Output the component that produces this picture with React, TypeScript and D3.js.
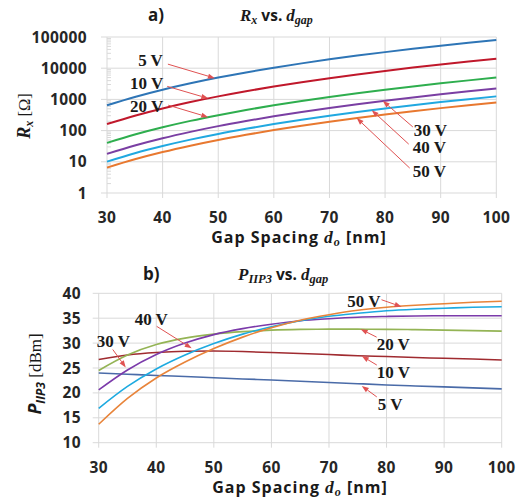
import React from "react";
import * as d3 from "d3";

// ---------- data ----------
const GAP_NM = [30, 35, 40, 45, 50, 55, 60, 65, 70, 75, 80, 85, 90, 95, 100];
const X_TICKS = [30, 40, 50, 60, 70, 80, 90, 100];
const VOLT_LABELS = ["5 V", "10 V", "20 V", "30 V", "40 V", "50 V"];

// Rx [Ohm] (panel a)
const RX_5V = [648, 1200, 2048, 3280, 5000, 7320, 10368, 14280, 19208, 25313, 32768, 41760, 52488, 65160, 80000];
const RX_10V = [162, 300, 512, 820, 1250, 1830, 2592, 3570, 4802, 6328, 8192, 10440, 13122, 16290, 20000];
const RX_20V = [40.5, 75, 128, 205, 312, 458, 648, 893, 1200, 1582, 2048, 2610, 3280, 4073, 5000];
const RX_30V = [18, 33.3, 56.9, 91.1, 139, 203, 288, 397, 534, 703, 910, 1160, 1458, 1810, 2222];
const RX_40V = [10.1, 18.8, 32, 51.3, 78.1, 114, 162, 223, 300, 396, 512, 653, 820, 1018, 1250];
const RX_50V = [6.5, 12, 20.5, 32.8, 50, 73.2, 104, 143, 192, 253, 328, 418, 525, 652, 800];
const RX_TICKS = [1, 10, 100, 1000, 10000, 100000];

// PIIP3 [dBm] (panel b)
const P_5V = [24.0, 23.75, 23.5, 23.3, 23.05, 22.8, 22.6, 22.35, 22.1, 21.85, 21.6, 21.4, 21.2, 21.0, 20.8];
const P_10V = [26.7, 27.6, 28.1, 28.35, 28.4, 28.3, 28.1, 27.9, 27.7, 27.45, 27.3, 27.1, 26.95, 26.8, 26.6];
const P_20V = [24.5, 27.6, 29.7, 31.0, 31.8, 32.3, 32.6, 32.75, 32.8, 32.8, 32.75, 32.7, 32.6, 32.5, 32.4];
const P_30V = [20.6, 24.6, 27.7, 30.0, 31.7, 32.9, 33.8, 34.5, 34.9, 35.2, 35.35, 35.45, 35.5, 35.5, 35.5];
const P_40V = [16.9, 21.3, 24.8, 27.6, 29.9, 31.8, 33.3, 34.5, 35.4, 36.0, 36.5, 36.8, 37.0, 37.2, 37.3];
const P_50V = [13.7, 18.9, 23.0, 26.2, 28.9, 31.2, 33.1, 34.6, 35.7, 36.6, 37.2, 37.6, 37.9, 38.2, 38.4];
const P_TICKS = [10, 15, 20, 25, 30, 35, 40];

// annotation anchors (data coordinates of arrow tips)
const RX_TIP_GAP = [49.4, 48.2, 48.2, 79.6, 77.6, 74.9];
const RX_TIP_VAL = [4800, 1080, 270, 890, 453, 252];
const P_TIP_GAP = [75.7, 75.7, 75.5, 34.7, 46.15, 82.6];
const P_TIP_VAL = [21.4, 27.4, 32.8, 25.1, 28.95, 37.3];

// ---------- styles ----------
const COLORS_A = ["#2E75B6", "#C0182B", "#2EAE4E", "#7A3FA3", "#20A8E0", "#E8782F"];
const COLORS_B = ["#4A6BA8", "#A02B30", "#94B455", "#7B3AAA", "#1DAAE0", "#E8843A"];
const GRID = "#D9D9D9";
const ARROW = "#E05252";
const TICK_FONT = "'Open Sans', 'DejaVu Sans', sans-serif";
const SERIF = "'Liberation Serif', 'DejaVu Serif', serif";

// label layout offsets relative to tip: [tailDx, tailDy, labelDx, labelDy, anchor]
const A_LAYOUT: [number, number, number, number, string][] = [
  [-47, -14, -52, -12, "end"],
  [-41, -12, -45, -9, "end"],
  [-40, -12, -45, -5, "end"],
  [30, 26, 31, 35, "start"],
  [37, 34, 41, 43, "start"],
  [53, 50, 56, 59, "start"],
];
const B_LAYOUT: [number, number, number, number, string][] = [
  [15, 11, 16, 24, "start"],
  [15, 9, 15, 22, "start"],
  [16, 8, 16, 21, "start"],
  [-13, -18, -29, -21, "start"],
  [-35, -22, -57, -23, "start"],
  [-20, -7, -21, 0, "end"],
];

function Arrow({ x1, y1, x2, y2 }: { x1: number; y1: number; x2: number; y2: number }) {
  const ang = Math.atan2(y2 - y1, x2 - x1);
  const L = 7, W = 2.6;
  const bx = x2 - L * Math.cos(ang), by = y2 - L * Math.sin(ang);
  const px = -Math.sin(ang) * W, py = Math.cos(ang) * W;
  return (
    <g>
      <line x1={x1} y1={y1} x2={bx} y2={by} stroke={ARROW} strokeWidth={1} />
      <path d={`M${x2},${y2}L${bx + px},${by + py}L${bx - px},${by - py}Z`} fill={ARROW} />
    </g>
  );
}

export default function App() {
  const W = 521, H = 498;

  // ---- panel a ----
  const xa = d3.scaleLinear().domain([30, 100]).range([107, 496.3]);
  const ya = d3.scaleLog().domain([1, 100000]).range([193, 37]);
  const seriesA = [RX_5V, RX_10V, RX_20V, RX_30V, RX_40V, RX_50V];
  const lineA = d3.line<number>().x((_, i) => xa(GAP_NM[i])).y((v) => ya(v)).curve(d3.curveMonotoneX);
  const minorA: number[] = [];
  for (let e = 0; e < 5; e++) for (let k = 2; k <= 9; k++) minorA.push(k * Math.pow(10, e));

  // ---- panel b ----
  const xb = d3.scaleLinear().domain([30, 100]).range([98.7, 501.7]);
  const yb = d3.scaleLinear().domain([10, 40]).range([442.7, 293.3]);
  const seriesB = [P_5V, P_10V, P_20V, P_30V, P_40V, P_50V];
  const lineB = d3.line<number>().x((_, i) => xb(GAP_NM[i])).y((v) => yb(v)).curve(d3.curveMonotoneX);

  const tickStyle: React.CSSProperties = { fontFamily: TICK_FONT, fontWeight: 700, fontSize: 15.5, letterSpacing: 0.4, fill: "#262626" };
  const annStyle: React.CSSProperties = { fontFamily: SERIF, fontWeight: 700, fontSize: 17, fill: "#1a1a1a" };
  const xTitleStyle: React.CSSProperties = { fontFamily: TICK_FONT, fontWeight: 700, fontSize: 16, letterSpacing: 1, fill: "#1a1a1a" };

  return (
    <svg width={W} height={H} viewBox={`0 0 ${W} ${H}`} style={{ position: "absolute", left: 0, top: 0, background: "#fff" }}>
      <rect width={W} height={H} fill="#fff" />
      {/* ===== Panel a ===== */}
      <g>
        {X_TICKS.map((t) => (
          <line key={"ga" + t} x1={xa(t)} x2={xa(t)} y1={ya(100000)} y2={ya(1) + 5} stroke={GRID} strokeWidth={1} />
        ))}
        {RX_TICKS.map((t) => (
          <line key={"gya" + t} x1={xa(30) - 6} x2={xa(100)} y1={ya(t)} y2={ya(t)} stroke={GRID} strokeWidth={1} />
        ))}
        {minorA.map((t) => (
          <line key={"mn" + t} x1={xa(30)} x2={xa(30) + 4} y1={ya(t)} y2={ya(t)} stroke={GRID} strokeWidth={1} />
        ))}
        {seriesA.map((s, i) => (
          <path key={"la" + i} d={lineA(s) || ""} fill="none" stroke={COLORS_A[i]} strokeWidth={2} />
        ))}
        {RX_TICKS.map((t) => (
          <text key={"tya" + t} x={87} y={ya(t) + 5.5} textAnchor="end" style={tickStyle}>
            {String(t)}
          </text>
        ))}
        {X_TICKS.map((t) => (
          <text key={"txa" + t} x={xa(t)} y={223} textAnchor="middle" style={tickStyle}>
            {String(t)}
          </text>
        ))}
        <text x={299} y={243} textAnchor="middle" style={xTitleStyle}>
          Gap Spacing <tspan style={{ fontFamily: SERIF, fontStyle: "italic", fontSize: 17.5 }}>d</tspan>
          <tspan dy={3} style={{ fontFamily: SERIF, fontStyle: "italic", fontSize: 12 }}>o</tspan>
          <tspan dy={-3}> [nm]</tspan>
        </text>
        <text transform="translate(30,116) rotate(-90)" textAnchor="middle" style={{ fontSize: 16.5, fill: "#1a1a1a" }}>
          <tspan style={{ fontFamily: SERIF, fontStyle: "italic", fontWeight: 700, fontSize: 18 }}>R</tspan>
          <tspan dy={3} style={{ fontFamily: SERIF, fontStyle: "italic", fontWeight: 700, fontSize: 12 }}>x</tspan>
          <tspan dy={-3} style={{ fontFamily: SERIF }}> [Ω]</tspan>
        </text>
        <text x={148} y={21} style={{ fontFamily: TICK_FONT, fontWeight: 700, fontSize: 17, fill: "#1a1a1a" }}>a)</text>
        <text x={240} y={21} style={{ fontSize: 17, fill: "#1a1a1a" }}>
          <tspan style={{ fontFamily: SERIF, fontStyle: "italic", fontWeight: 700 }}>R</tspan>
          <tspan dy={3} style={{ fontFamily: SERIF, fontStyle: "italic", fontWeight: 700, fontSize: 12 }}>x</tspan>
          <tspan dy={-3} style={{ fontFamily: TICK_FONT, fontWeight: 700, fontSize: 15.5 }}> vs. </tspan>
          <tspan style={{ fontFamily: SERIF, fontStyle: "italic", fontWeight: 700 }}>d</tspan>
          <tspan dy={3} style={{ fontFamily: SERIF, fontStyle: "italic", fontWeight: 700, fontSize: 12 }}>gap</tspan>
        </text>
        {VOLT_LABELS.map((lab, i) => {
          const tx = xa(RX_TIP_GAP[i]), ty = ya(RX_TIP_VAL[i]);
          const [tdx, tdy, ldx, ldy, anc] = A_LAYOUT[i];
          return (
            <g key={"aa" + i}>
              <Arrow x1={tx + tdx} y1={ty + tdy} x2={tx} y2={ty} />
              <text x={tx + ldx} y={ty + ldy} textAnchor={anc as any} style={annStyle}>{lab}</text>
            </g>
          );
        })}
      </g>

      {/* ===== Panel b ===== */}
      <g>
        {X_TICKS.map((t) => (
          <line key={"gb" + t} x1={xb(t)} x2={xb(t)} y1={yb(40)} y2={yb(10) + 5} stroke={GRID} strokeWidth={1} />
        ))}
        {P_TICKS.map((t) => (
          <line key={"gyb" + t} x1={xb(30) - 6} x2={xb(100)} y1={yb(t)} y2={yb(t)} stroke={GRID} strokeWidth={1} />
        ))}
        {seriesB.map((s, i) => (
          <path key={"lb" + i} d={lineB(s) || ""} fill="none" stroke={COLORS_B[i]} strokeWidth={1.6} />
        ))}
        {P_TICKS.map((t) => (
          <text key={"tyb" + t} x={81} y={yb(t) + 5.5} textAnchor="end" style={tickStyle}>
            {String(t)}
          </text>
        ))}
        {X_TICKS.map((t) => (
          <text key={"txb" + t} x={xb(t)} y={472.5} textAnchor="middle" style={tickStyle}>
            {String(t)}
          </text>
        ))}
        <text x={300} y={493} textAnchor="middle" style={xTitleStyle}>
          Gap Spacing <tspan style={{ fontFamily: SERIF, fontStyle: "italic", fontSize: 17.5 }}>d</tspan>
          <tspan dy={3} style={{ fontFamily: SERIF, fontStyle: "italic", fontSize: 12 }}>o</tspan>
          <tspan dy={-3}> [nm]</tspan>
        </text>
        <text transform="translate(41,374) rotate(-90)" textAnchor="middle" style={{ fontSize: 17, fill: "#1a1a1a" }}>
          <tspan style={{ fontFamily: TICK_FONT, fontStyle: "italic", fontWeight: 700, fontSize: 18 }}>P</tspan>
          <tspan dy={4} style={{ fontFamily: TICK_FONT, fontStyle: "italic", fontWeight: 700, fontSize: 12 }}>IIP3</tspan>
          <tspan dy={-4} style={{ fontFamily: SERIF }}>  [dBm]</tspan>
        </text>
        <text x={143} y={280} style={{ fontFamily: TICK_FONT, fontWeight: 700, fontSize: 17, fill: "#1a1a1a" }}>b)</text>
        <text x={238} y={280} style={{ fontSize: 17, fill: "#1a1a1a" }}>
          <tspan style={{ fontFamily: SERIF, fontStyle: "italic", fontWeight: 700 }}>P</tspan>
          <tspan dy={3} style={{ fontFamily: SERIF, fontStyle: "italic", fontWeight: 700, fontSize: 12.5 }}>IIP3</tspan>
          <tspan dy={-3} style={{ fontFamily: TICK_FONT, fontWeight: 700, fontSize: 15.5 }}> vs. </tspan>
          <tspan style={{ fontFamily: SERIF, fontStyle: "italic", fontWeight: 700 }}>d</tspan>
          <tspan dy={3} style={{ fontFamily: SERIF, fontStyle: "italic", fontWeight: 700, fontSize: 12.5 }}>gap</tspan>
        </text>
        {VOLT_LABELS.map((lab, i) => {
          const tx = xb(P_TIP_GAP[i]), ty = yb(P_TIP_VAL[i]);
          const [tdx, tdy, ldx, ldy, anc] = B_LAYOUT[i];
          return (
            <g key={"ab" + i}>
              <Arrow x1={tx + tdx} y1={ty + tdy} x2={tx} y2={ty} />
              <text x={tx + ldx} y={ty + ldy} textAnchor={anc as any} style={annStyle}>{lab}</text>
            </g>
          );
        })}
      </g>
    </svg>
  );
}
